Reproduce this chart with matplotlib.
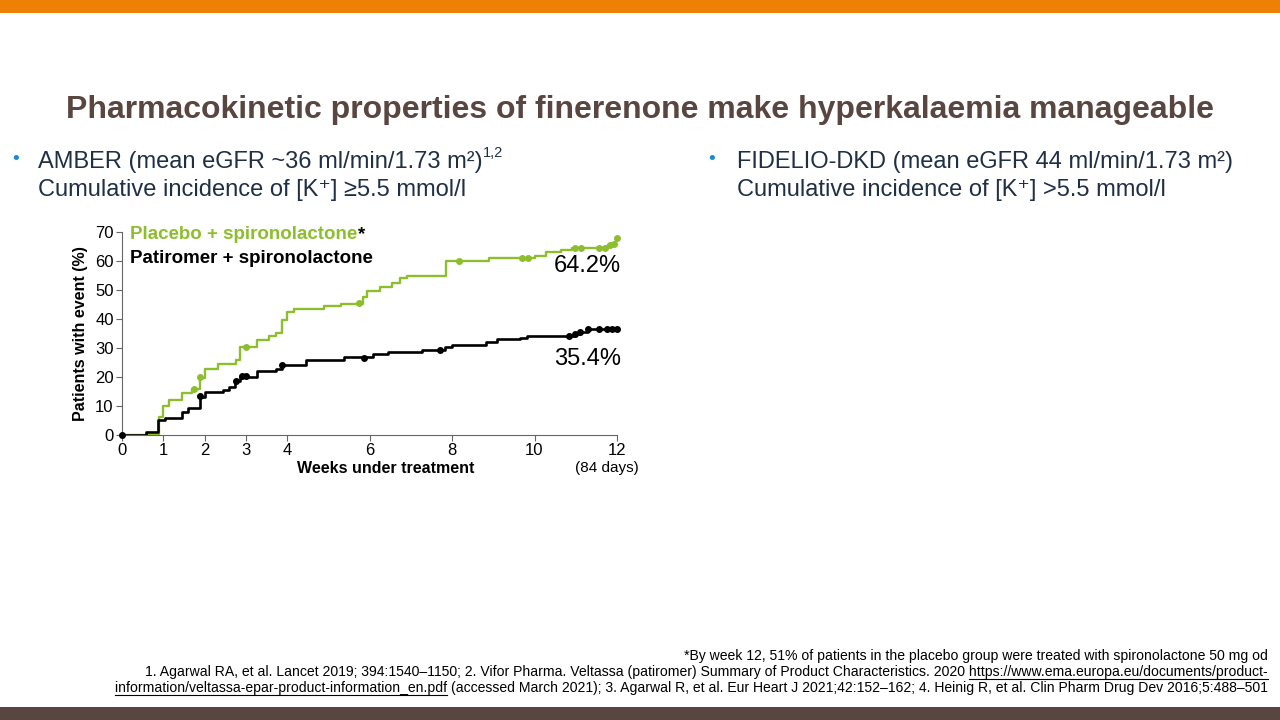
import matplotlib.pyplot as plt
import numpy as np

plt.rcParams['font.family'] = ['Liberation Sans', 'DejaVu Sans']

# step curves (weeks, % patients with event)
placebo_t = [0, 0.90, 1.00, 1.14, 1.45, 1.69, 1.88, 2.02, 2.32, 2.76, 2.85, 3.28, 3.56, 3.74, 3.89,
             4.00, 4.17, 4.90, 5.30, 5.85, 5.95, 6.25, 6.55, 6.75, 6.90, 7.86, 8.90, 10.00, 10.28,
             10.65, 10.92, 11.78, 11.88, 11.97, 12.0]
placebo_y = [0, 6.3, 10.1, 11.9, 14.4, 15.9, 19.7, 22.9, 24.4, 25.8, 30.5, 32.8, 34.2, 35.1, 39.8,
             42.3, 43.6, 44.5, 45.2, 47.5, 49.5, 51.0, 52.5, 54.0, 55.0, 60.0, 61.0, 61.8, 63.1,
             63.9, 64.5, 65.4, 66.0, 67.9, 67.9]
placebo_cens_t = [1.75, 1.90, 3.00, 5.75, 8.18, 9.69, 9.85, 10.97, 11.13, 11.56, 11.70, 11.82, 11.92, 12.0]
placebo_cens_y = [16.0, 19.9, 30.2, 45.6, 60.0, 61.0, 61.0, 64.5, 64.5, 64.5, 64.5, 65.4, 66.0, 67.9]

patiromer_t = [0, 0.58, 0.88, 1.04, 1.45, 1.59, 1.88, 2.02, 2.46, 2.59, 2.75, 2.85, 3.28, 3.74, 3.89,
               4.45, 5.39, 6.08, 6.44, 7.27, 7.82, 8.00, 8.82, 9.10, 9.64, 9.83, 10.97, 11.10, 11.29, 12.0]
patiromer_y = [0, 1.0, 5.1, 6.0, 7.8, 9.3, 13.0, 14.8, 15.6, 16.6, 18.5, 20.0, 22.0, 22.9, 24.3,
               25.8, 27.0, 27.8, 28.7, 29.3, 30.4, 31.2, 32.1, 33.0, 33.6, 34.2, 35.0, 35.6, 36.5, 36.5]
patiromer_cens_t = [0, 1.90, 2.76, 2.90, 3.00, 3.89, 5.86, 7.72, 10.83, 10.97, 11.10, 11.29, 11.56, 11.75, 11.88, 12.0]
patiromer_cens_y = [0, 13.3, 18.7, 20.3, 20.5, 24.3, 26.5, 29.4, 34.2, 35.0, 35.6, 36.5, 36.5, 36.5, 36.5, 36.5]

xticks = [0, 1, 2, 3, 4, 6, 8, 10, 12]
yticks = [0, 10, 20, 30, 40, 50, 60, 70]

green = '#8dbe2d'
navy = '#1f2f45'
brown = '#5a4640'

fig = plt.figure(figsize=(12.8, 7.2), dpi=100)
r = fig.canvas.get_renderer()

# slide bars
fig.add_artist(plt.Rectangle((0, 1 - 13 / 720), 1, 13 / 720, transform=fig.transFigure, color='#ef8006', lw=0))
fig.add_artist(plt.Rectangle((0, 0), 1, 13 / 720, transform=fig.transFigure, color=brown, lw=0))

fig.text(0.5, 1 - 110 / 720, 'Pharmacokinetic properties of finerenone make hyperkalaemia manageable',
         ha='center', va='center', fontsize=23, fontweight='bold', color=brown)

# bullets
fs_b = 17
fig.text(12 / 1280, 1 - 160 / 720, '•', color='#1a8ad4', fontsize=14, va='center')
amber = fig.text(38 / 1280, 1 - 168 / 720, 'AMBER (mean eGFR ~36 ml/min/1.73 m²)',
                 color=navy, fontsize=fs_b, va='baseline')
ab = amber.get_window_extent(r)
fig.text(ab.x1 / 1280, 1 - 157 / 720, '1,2', color=navy, fontsize=10.5, va='baseline')
fig.text(38 / 1280, 1 - 196 / 720, 'Cumulative incidence of [K⁺] ≥5.5 mmol/l',
         color=navy, fontsize=fs_b, va='baseline')
fig.text(708 / 1280, 1 - 160 / 720, '•', color='#1a8ad4', fontsize=14, va='center')
fig.text(737 / 1280, 1 - 168 / 720, 'FIDELIO-DKD (mean eGFR 44 ml/min/1.73 m²)',
         color=navy, fontsize=fs_b, va='baseline')
fig.text(737 / 1280, 1 - 196 / 720, 'Cumulative incidence of [K⁺] >5.5 mmol/l',
         color=navy, fontsize=fs_b, va='baseline')

# chart
ax = fig.add_axes([122 / 1280, 1 - 435 / 720, 495 / 1280, 203 / 720])
ax.step(placebo_t, placebo_y, where='post', color=green, lw=1.7, zorder=3)
ax.plot(placebo_cens_t, placebo_cens_y, 'o', color=green, ms=4, zorder=4, clip_on=False)
ax.step(patiromer_t, patiromer_y, where='post', color='black', lw=1.9, zorder=3)
ax.plot(patiromer_cens_t, patiromer_cens_y, 'o', color='black', ms=4, zorder=4, clip_on=False)

ax.set_xlim(0, 12)
ax.set_ylim(0, 70)
ax.set_xticks(xticks)
ax.set_yticks(yticks)
ax.tick_params(labelsize=12, length=4, color='#666666', pad=2)
for s in ['top', 'right']:
    ax.spines[s].set_visible(False)
for s in ['left', 'bottom']:
    ax.spines[s].set_color('#666666')
ax.set_xlabel('Weeks under treatment', fontsize=11.5, fontweight='bold', labelpad=5)
ax.xaxis.set_label_coords(0.532, -0.13)
ax.set_ylabel('Patients with event (%)', fontsize=11.5, fontweight='bold', labelpad=5)

leg_fs = 13.5
t = ax.text(0.2, 69, 'Placebo + spironolactone', color=green, fontsize=leg_fs, fontweight='bold', va='center')
bb = t.get_window_extent(r).transformed(ax.transData.inverted())
ax.text(bb.x1, 69, '*', color='black', fontsize=leg_fs, fontweight='bold', va='center')
ax.text(0.2, 61, 'Patiromer + spironolactone', color='black', fontsize=leg_fs, fontweight='bold', va='center')
ax.text(12.1, 58.2, '64.2%', fontsize=17, ha='right', va='center')
ax.text(12.1, 26.2, '35.4%', fontsize=17, ha='right', va='center')
ax.text(11.76, -11.5, '(84 days)', fontsize=11, ha='center', va='center')

# footnotes
fs_f = 10.1
fig.text(1268 / 1280, 1 - 656 / 720,
         '*By week 12, 51% of patients in the placebo group were treated with spironolactone 50 mg od',
         ha='right', va='center', fontsize=fs_f, color='black')
url1 = 'https://www.ema.europa.eu/documents/product-'
line2 = ('1. Agarwal RA, et al. Lancet 2019; 394:1540–1150; 2. Vifor Pharma. Veltassa (patiromer) '
         'Summary of Product Characteristics. 2020 ')
fig.text(1268 / 1280, 1 - 672 / 720, line2 + url1, ha='right', va='center', fontsize=fs_f, color='black')
url2 = 'information/veltassa-epar-product-information_en.pdf'
line3 = (' (accessed March 2021); 3. Agarwal R, et al. Eur Heart J 2021;42:152–162; '
         '4. Heinig R, et al. Clin Pharm Drug Dev 2016;5:488–501')
full3 = fig.text(1268 / 1280, 1 - 688 / 720, url2 + line3, ha='right', va='center', fontsize=fs_f, color='black')

# underline the link parts
m1 = fig.text(0.5, 0.5, url1, fontsize=fs_f, color='none')
m2 = fig.text(0.5, 0.5, url2, fontsize=fs_f, color='none')
w1 = m1.get_window_extent(r).width
w2 = m2.get_window_extent(r).width
b3 = full3.get_window_extent(r)
m1.remove()
m2.remove()
x_end = 1268
fig.add_artist(plt.Line2D([(x_end - w1) / 1280, x_end / 1280], [1 - 679 / 720] * 2,
                          transform=fig.transFigure, color='black', lw=0.8))
fig.add_artist(plt.Line2D([b3.x0 / 1280, (b3.x0 + w2) / 1280], [1 - 695 / 720] * 2,
                          transform=fig.transFigure, color='black', lw=0.8))

fig.savefig('out.png', dpi=100)
